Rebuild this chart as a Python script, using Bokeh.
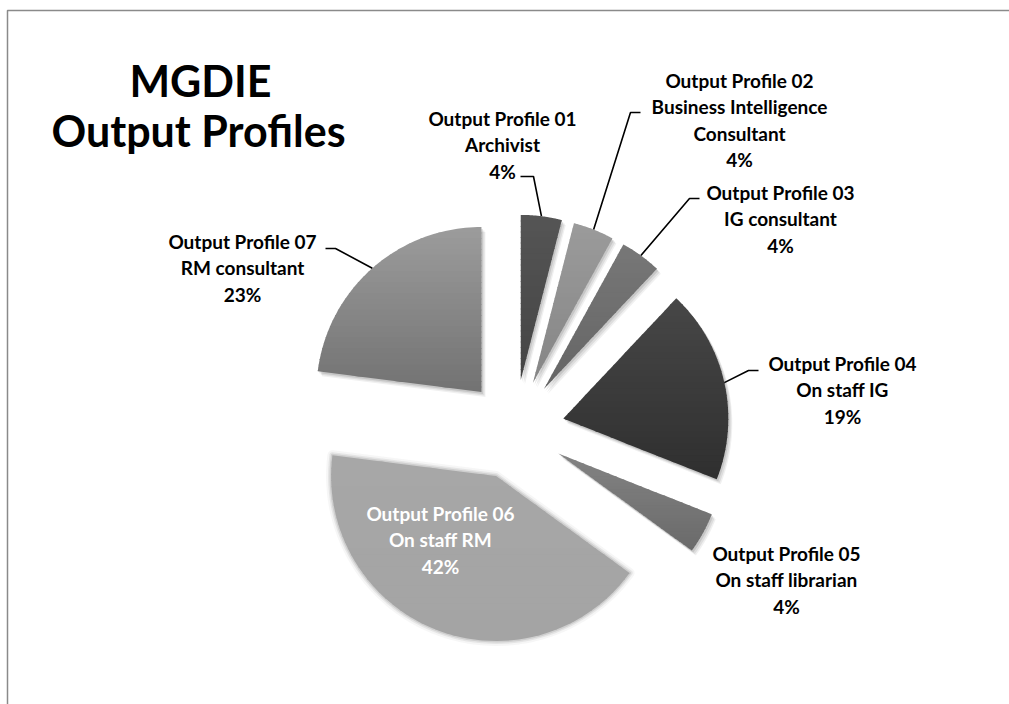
import numpy as np
from bokeh.plotting import figure
from bokeh.models import Range1d
from bokeh.embed import file_html
from bokeh.resources import INLINE
from bokeh.core.properties import value

# ---------------- data ----------------
profiles = ["Output Profile 01", "Output Profile 02", "Output Profile 03", "Output Profile 04",
            "Output Profile 05", "Output Profile 06", "Output Profile 07"]
roles = [["Archivist"], ["Business Intelligence", "Consultant"], ["IG consultant"], ["On staff IG"],
         ["On staff librarian"], ["On staff RM"], ["RM consultant"]]
shares = [4, 4, 4, 19, 4, 42, 23]
title_lines = ["MGDIE", "Output Profiles"]

# ---------------- styling / layout ----------------
top_colors = ["#555555", "#9b9b9b", "#777777", "#474747", "#838383", "#a7a7a7", "#9c9c9c"]
bot_colors = ["#444444", "#858585", "#656565", "#2f2f2f", "#6a6a6a", "#a4a4a4", "#727272"]
text_colors = ["black", "black", "black", "black", "black", "white", "black"]
label_pos = [(502, 118), (739, 80), (780, 192), (842, 363), (786, 553), (440, 513), (242, 241)]
leader_pts = [[(533, 176), (520, 176)], [(630, 112), (640, 112)], [(689, 198), (699, 198)],
              [(748, 370), (758, 370)], None, None, [(335, 248), (325, 248)]]
CX, CY, R, EXPLODE = 514.0, 429.0, 165.0, 50.0
LINE_H = 26.3
FONT = "Lato"

W, H = 1009, 704
p = figure(width=W, height=H, x_range=Range1d(0, W), y_range=Range1d(H, 0),
           output_backend="svg", toolbar_location=None, min_border=0)
p.axis.visible = False
p.grid.visible = False
p.outline_line_color = None
p.background_fill_color = "white"
p.border_fill_color = "white"

# chart frame (extends past the window on right and bottom)
p.line([7, 7, 1030], [730, 10, 10], line_color="#8a8a8a", line_width=1.5)


def pt(ax, ay, r, th):
    return ax + r * np.sin(th), ay - r * np.cos(th)


def hex2rgb(h):
    h = h.lstrip("#")
    return np.array([int(h[i:i + 2], 16) for i in (0, 2, 4)], dtype=float)


def rgb2hex(c):
    return "#%02x%02x%02x" % tuple(int(round(v)) for v in c)


def clip(poly, y0, y1):
    def clip_half(pts, keep, inter):
        out = []
        n = len(pts)
        for i in range(n):
            a, b = pts[i], pts[(i + 1) % n]
            ka, kb = keep(a), keep(b)
            if ka:
                out.append(a)
                if not kb:
                    out.append(inter(a, b))
            elif kb:
                out.append(inter(a, b))
        return out

    def ix(yc):
        def f(a, b):
            t = (yc - a[1]) / (b[1] - a[1])
            return (a[0] + t * (b[0] - a[0]), yc)
        return f

    pts = clip_half(poly, lambda q: q[1] >= y0, ix(y0))
    if not pts:
        return []
    pts = clip_half(pts, lambda q: q[1] <= y1, ix(y1))
    return pts


total = float(sum(shares))
bounds = np.concatenate([[0], np.cumsum(shares)]) / total * 2 * np.pi

polys = []
apexes = []
for i in range(len(shares)):
    t1, t2 = bounds[i], bounds[i + 1]
    mid = 0.5 * (t1 + t2)
    ax, ay = pt(CX, CY, EXPLODE, mid)
    apexes.append((ax, ay, mid))
    th = np.linspace(t1, t2, 60)
    xs = [ax] + list(ax + R * np.sin(th))
    ys = [ay] + list(ay - R * np.cos(th))
    polys.append(list(zip(xs, ys)))

# drop shadows
for i, poly in enumerate(polys):
    if i == 5:
        continue
    for (dx, dy, a) in [(4, 5, 0.06), (3, 3.5, 0.08), (1.5, 2, 0.10)]:
        p.patch([q[0] + dx for q in poly], [q[1] + dy for q in poly],
                fill_color="black", fill_alpha=a, line_color=None)

# slices with vertical gradient
for i, poly in enumerate(polys):
    ys = [q[1] for q in poly]
    ymin, ymax = min(ys), max(ys)
    ctop, cbot = hex2rgb(top_colors[i]), hex2rgb(bot_colors[i])
    nb = 30
    edges = np.linspace(ymin, ymax, nb + 1)
    if i == 5:
        # soft (blurred) edge
        for lw, a in [(10, 0.10), (6, 0.2), (3, 0.35)]:
            p.patch([q[0] for q in poly], [q[1] for q in poly], fill_color=None,
                    line_color=top_colors[i], line_alpha=a, line_width=lw, line_join="round")
    for b in range(nb):
        sub = clip(poly, edges[b], min(edges[b + 1] + 1.0, ymax))
        if len(sub) < 3:
            continue
        f = (b + 0.5) / nb
        col = rgb2hex(ctop + (cbot - ctop) * f)
        p.patch([q[0] for q in sub], [q[1] for q in sub], fill_color=col, line_color=None)

# leader lines
for i, lp in enumerate(leader_pts):
    if lp is None:
        continue
    ax, ay, mid = apexes[i]
    sx, sy = pt(ax, ay, R, mid)
    xs = [sx] + [q[0] for q in lp]
    ys = [sy] + [q[1] for q in lp]
    p.line(xs, ys, line_color="black", line_width=1.6)

# labels
tx, ty, tt, tc = [], [], [], []
for i in range(len(shares)):
    rows = [profiles[i]] + roles[i] + ["%d%%" % round(shares[i] / total * 100)]
    x0, y0 = label_pos[i]
    for k, r in enumerate(rows):
        tx.append(x0)
        ty.append(y0 + k * LINE_H)
        tt.append(r)
        tc.append(text_colors[i])
p.text(x=tx, y=ty, text=tt, text_color=tc, text_align="center", text_baseline="middle",
       text_font=value(FONT), text_font_style="bold", text_font_size="19px")

# title
p.text(x=[200, 198], y=[80, 130], text=title_lines, text_align="center", text_baseline="middle",
       text_font=value(FONT), text_font_style="bold", text_font_size="43px", text_color="black")

open("out.html", "w").write(file_html(p, INLINE))
